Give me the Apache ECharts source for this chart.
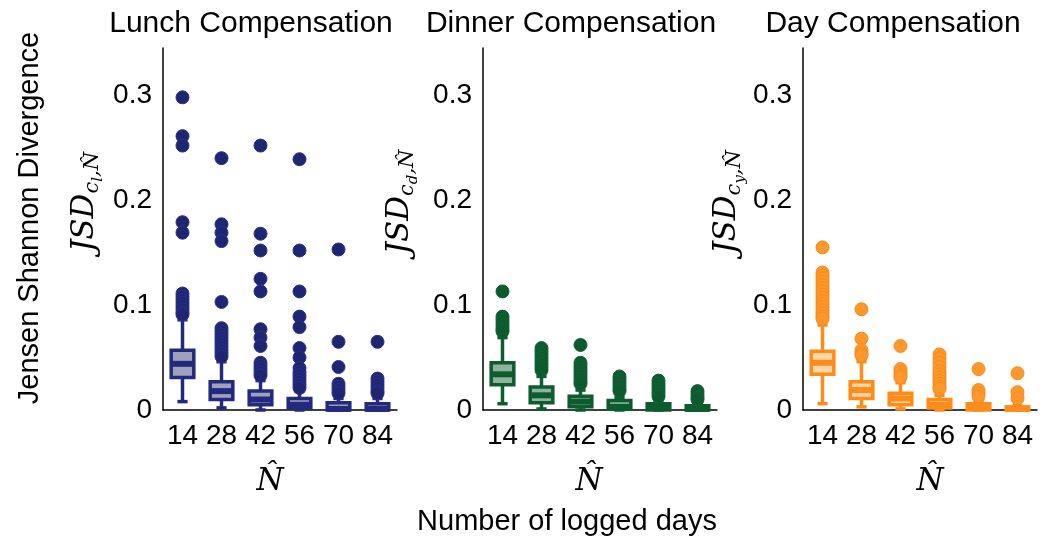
<!DOCTYPE html>
<html>
<head>
<meta charset="utf-8">
<script src="https://cdn.jsdelivr.net/npm/echarts@6/dist/echarts.min.js"></script>
<style>
html,body{margin:0;padding:0;background:#fff;}
#chart{width:1040px;height:538px;}
</style>
</head>
<body>
<div id="chart"></div>
<script>
// ---------- data ----------
const categories = ['14', '28', '42', '56', '70', '84'];
const yTicks = [0, 0.1, 0.2, 0.3];
const panelTitles = ['Lunch Compensation', 'Dinner Compensation', 'Day Compensation'];

// box stats per category: [min, q1, median, q3, max]
const lunchBox = [
  [0.008, 0.031, 0.044, 0.057, 0.086],
  [0.002, 0.010, 0.018, 0.027, 0.046],
  [0.000, 0.005, 0.010, 0.018, 0.028],
  [0.000, 0.002, 0.005, 0.011, 0.018],
  [0.000, 0.000, 0.001, 0.007, 0.011],
  [0.000, 0.000, 0.001, 0.006, 0.011]
];
const lunchOutliers = [
  [0.298, 0.261, 0.252, 0.179, 0.169, 0.111, 0.108, 0.105, 0.102, 0.099, 0.096, 0.093, 0.091],
  [0.240, 0.177, 0.169, 0.161, 0.103, 0.078, 0.075, 0.072, 0.069, 0.066, 0.063, 0.060, 0.057, 0.054, 0.051],
  [0.252, 0.168, 0.152, 0.125, 0.113, 0.077, 0.069, 0.061, 0.045, 0.042, 0.039, 0.036, 0.033],
  [0.239, 0.152, 0.113, 0.089, 0.079, 0.059, 0.050, 0.040, 0.036, 0.033, 0.030, 0.027, 0.024, 0.021],
  [0.153, 0.065, 0.041, 0.025, 0.022, 0.019, 0.016],
  [0.065, 0.030, 0.027, 0.024, 0.021, 0.018, 0.016]
];

const dinnerBox = [
  [0.006, 0.024, 0.034, 0.045, 0.069],
  [0.001, 0.007, 0.014, 0.022, 0.032],
  [0.000, 0.003, 0.008, 0.013, 0.019],
  [0.000, 0.001, 0.003, 0.009, 0.012],
  [0.000, 0.000, 0.002, 0.006, 0.007],
  [0.000, 0.000, 0.001, 0.004, 0.005]
];
const dinnerOutliers = [
  [0.113, 0.089, 0.086, 0.083, 0.080, 0.077, 0.075],
  [0.059, 0.056, 0.053, 0.050, 0.047, 0.044, 0.041, 0.038],
  [0.062, 0.045, 0.042, 0.039, 0.036, 0.033, 0.030, 0.027, 0.025],
  [0.032, 0.029, 0.026, 0.023, 0.020, 0.018],
  [0.028, 0.025, 0.022, 0.019, 0.016, 0.013],
  [0.018, 0.015, 0.012, 0.010]
];

const dayBox = [
  [0.006, 0.034, 0.045, 0.056, 0.081],
  [0.003, 0.011, 0.019, 0.027, 0.046],
  [0.001, 0.005, 0.011, 0.016, 0.026],
  [0.000, 0.002, 0.005, 0.010, 0.014],
  [0.000, 0.000, 0.002, 0.006, 0.008],
  [0.000, 0.000, 0.001, 0.003, 0.004]
];
const dayOutliers = [
  [0.155, 0.131, 0.128, 0.125, 0.122, 0.119, 0.116, 0.113, 0.110, 0.107, 0.104, 0.101, 0.098, 0.095, 0.092, 0.089, 0.087],
  [0.096, 0.068, 0.057, 0.054, 0.052],
  [0.061, 0.039, 0.036, 0.033, 0.031],
  [0.053, 0.049, 0.045, 0.041, 0.037, 0.034, 0.031, 0.028, 0.025, 0.022, 0.020],
  [0.039, 0.019, 0.016, 0.013],
  [0.035, 0.017, 0.011]
];

// ---------- styling ----------
const panels = [
  {box: lunchBox, out: lunchOutliers, dark: '#222a7e', fill: '#9ea1bd', dot: '#1e2672', dotBorder: '#28318a', left: 163, titleX: 251, nameX: 85, hatX: 270},
  {box: dinnerBox, out: dinnerOutliers, dark: '#0d5c2e', fill: '#8fb39a', dot: '#0c5a2d', dotBorder: '#106233', left: 483, titleX: 571, nameX: 400, hatX: 589},
  {box: dayBox, out: dayOutliers, dark: '#ff8c1a', fill: '#ffd6a6', dot: '#ff982c', dotBorder: '#f88a1c', left: 803, titleX: 893, nameX: 727, hatX: 930}
];
const subs = ['l', 'd', 'y'];
const FONT = '"Liberation Sans", Arial, Helvetica, sans-serif';
const SERIF = '"DejaVu Serif", "Liberation Serif", serif';

function boxRender(dark, fill) {
  return function (params, api) {
    const x = api.value(0);
    const pMin = api.coord([x, api.value(1)]);
    const pQ1 = api.coord([x, api.value(2)]);
    const pMed = api.coord([x, api.value(3)]);
    const pQ3 = api.coord([x, api.value(4)]);
    const pMax = api.coord([x, api.value(5)]);
    const bw = api.size([1, 0])[0] * 0.58;
    const cap = bw * 0.45;
    const cx = pMed[0];
    const lw = 3.5;
    return {
      type: 'group',
      children: [
        {type: 'line', shape: {x1: cx, y1: pQ3[1], x2: cx, y2: pMax[1]}, style: {stroke: dark, lineWidth: lw}},
        {type: 'line', shape: {x1: cx, y1: pQ1[1], x2: cx, y2: pMin[1]}, style: {stroke: dark, lineWidth: lw}},
        {type: 'line', shape: {x1: cx - cap / 2, y1: pMin[1], x2: cx + cap / 2, y2: pMin[1]}, style: {stroke: dark, lineWidth: lw}},
        {type: 'line', shape: {x1: cx - cap / 2, y1: pMax[1], x2: cx + cap / 2, y2: pMax[1]}, style: {stroke: dark, lineWidth: lw}},
        {type: 'rect', shape: {x: cx - bw / 2, y: pQ3[1], width: bw, height: Math.max(pQ1[1] - pQ3[1], 1)},
          style: {fill: fill, stroke: dark, lineWidth: lw}},
        {type: 'line', shape: {x1: cx - bw / 2, y1: pMed[1], x2: cx + bw / 2, y2: pMed[1]}, style: {stroke: dark, lineWidth: 6}}
      ]
    };
  };
}

const grids = [], xAxes = [], yAxes = [], series = [], graphics = [];
panels.forEach((p, k) => {
  grids.push({left: p.left, top: 48, width: 234, height: 362, containLabel: false});
  xAxes.push({
    type: 'category', gridIndex: k, data: categories, boundaryGap: true,
    axisLine: {lineStyle: {color: '#000', width: 1.5}},
    axisTick: {show: false},
    axisLabel: {color: '#000', fontSize: 28, fontFamily: FONT, margin: 12, interval: 0},
    splitLine: {show: false}
  });
  yAxes.push({
    type: 'value', gridIndex: k, min: 0, max: 0.345, interval: 0.1,
    axisLine: {show: true, lineStyle: {color: '#000', width: 1.5}},
    axisTick: {show: false},
    splitLine: {show: false},
    axisLabel: {
      color: '#000', fontSize: 28, fontFamily: FONT, margin: 11,
      formatter: v => {
        const hit = yTicks.find(t => Math.abs(t - v) < 1e-9);
        if (hit === undefined) return '';
        return hit === 0 ? '0' : hit.toFixed(1);
      }
    }
  });
  const boxData = p.box.map((b, i) => [i].concat(b));
  series.push({
    type: 'custom', xAxisIndex: k, yAxisIndex: k,
    renderItem: boxRender(p.dark, p.fill),
    encode: {x: 0, y: [1, 2, 3, 4, 5]},
    data: boxData, z: 2
  });
  const pts = [];
  p.out.forEach((list, i) => list.forEach(v => pts.push([i, v])));
  series.push({
    type: 'scatter', xAxisIndex: k, yAxisIndex: k, data: pts,
    symbolSize: 13,
    itemStyle: {color: p.dot, borderColor: p.dotBorder, borderWidth: 1, opacity: 1},
    z: 3
  });
  // panel title
  graphics.push({type: 'text', x: p.titleX, y: 24, style: {
    text: panelTitles[k], fill: '#000', font: '30px ' + FONT, textAlign: 'center', textVerticalAlign: 'middle'}});
  // y axis math name
  graphics.push({type: 'text', x: p.nameX, y: 202, rotation: Math.PI / 2, style: {
    text: '{a|JSD}{b|c}{c|' + subs[k] + '}{b|,N\u0302}',
    textAlign: 'center', textVerticalAlign: 'middle', fill: '#000',
    rich: {
      a: {fontFamily: SERIF, fontStyle: 'italic', fontSize: 31, lineHeight: 44, fill: '#000'},
      b: {fontFamily: SERIF, fontStyle: 'italic', fontSize: 21, padding: [16, 0, 0, 0], fill: '#000'},
      c: {fontFamily: SERIF, fontStyle: 'italic', fontSize: 15, padding: [26, 0, 0, 0], fill: '#000'}
    }
  }});
  // x axis math name
  graphics.push({type: 'text', x: p.hatX, y: 482, style: {
    text: 'N\u0302', fill: '#000', font: 'italic 31px ' + SERIF, textAlign: 'center', textVerticalAlign: 'middle'}});
});
graphics.push({type: 'text', x: 30, y: 218, rotation: Math.PI / 2, style: {
  text: 'Jensen Shannon Divergence', fill: '#000', font: '29px ' + FONT, textAlign: 'center', textVerticalAlign: 'middle'}});
graphics.push({type: 'text', x: 567, y: 522, style: {
  text: 'Number of logged days', fill: '#000', font: '29px ' + FONT, textAlign: 'center', textVerticalAlign: 'middle'}});

const chart = echarts.init(document.getElementById('chart'), null, {renderer: 'canvas'});
chart.setOption({
  animation: false,
  backgroundColor: '#fff',
  grid: grids, xAxis: xAxes, yAxis: yAxes, series: series, graphic: graphics
});
</script>
</body>
</html>
